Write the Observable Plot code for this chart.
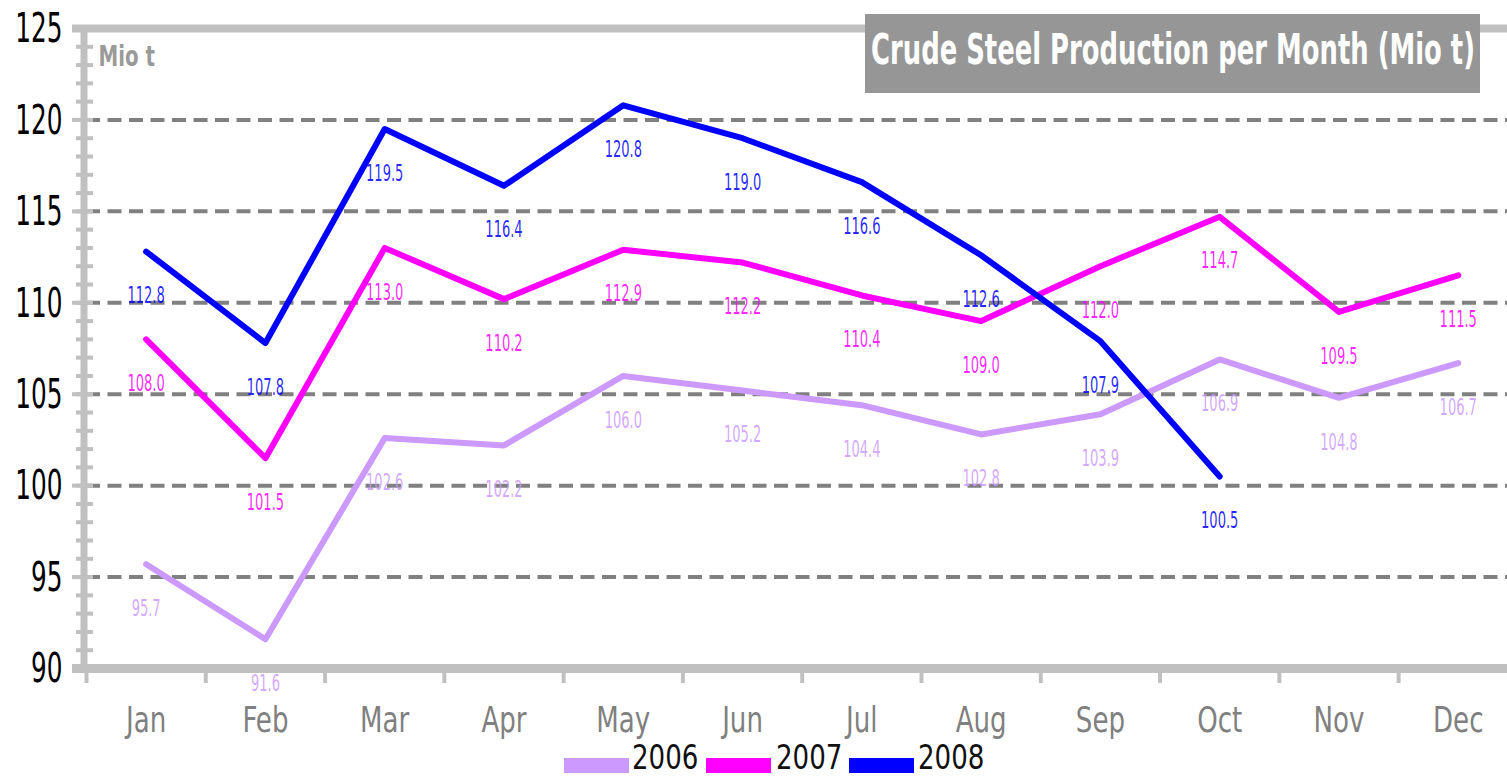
<!DOCTYPE html>
<html>
<head>
<meta charset="utf-8">
<script src="https://cdn.jsdelivr.net/npm/d3@7"></script>
<script src="https://cdn.jsdelivr.net/npm/@observablehq/plot@0.6"></script>
<style>
  html, body { margin: 0; padding: 0; background: #fff; }
  body { width: 1507px; height: 778px; position: relative; overflow: hidden;
         font-family: 'Liberation Sans Narrow', 'Arial Narrow', 'DejaVu Sans Condensed', sans-serif; }
  #chart svg { display: block; }
  #title { position: absolute; left: 865px; top: 14px; width: 615px; height: 79px; background: #969696;
           overflow: hidden; }
  #title span { position: absolute; left: 6px; top: 18px; white-space: nowrap; color: #fff; font-weight: bold;
                font-size: 36px; line-height: 36px; transform-origin: 0 50%; }
  #legend { position: absolute; left: 0; top: 742px; width: 1507px; height: 36px; }
  .sw { position: absolute; top: 16px; width: 65px; height: 15px; }
  .lt { position: absolute; top: -4px; font-size: 29px; line-height: 1.164em; color: #111;
        transform: scaleY(1.18); transform-origin: 0 0; }
</style>
</head>
<body>
<div id="chart"></div>
<div id="title"><span>Crude Steel Production per Month (Mio t)</span></div>
<div id="legend"></div>
<script>
const months = ["Jan","Feb","Mar","Apr","May","Jun","Jul","Aug","Sep","Oct","Nov","Dec"];
const years = ["2006","2007","2008"];
const colors = ["#cc99ff","#ff00ff","#0000ff"];
const v2006 = [95.7, 91.6, 102.6, 102.2, 106.0, 105.2, 104.4, 102.8, 103.9, 106.9, 104.8, 106.7];
const v2007 = [108.0, 101.5, 113.0, 110.2, 112.9, 112.2, 110.4, 109.0, 112.0, 114.7, 109.5, 111.5];
const v2008 = [112.8, 107.8, 119.5, 116.4, 120.8, 119.0, 116.6, 112.6, 107.9, 100.5];
const yTicks = [90, 95, 100, 105, 110, 115, 120, 125];
const gridTicks = [95, 100, 105, 110, 115, 120];
const unitLabel = "Mio t";

const series = [v2006, v2007, v2008];
const data = series.flatMap((vals, k) => vals.map((v, i) => ({year: years[k], m: i, v})));
const minorTicks = d3.range(yTicks[0], yTicks[yTicks.length - 1] + 1);
const bounds = d3.range(-0.5, months.length, 1);

const FONT = "'Liberation Sans Narrow', 'Arial Narrow', 'DejaVu Sans Condensed', sans-serif";
const AX = "#c0c0c0";

const plot = Plot.plot({
  width: 1507,
  height: 742,
  style: {background: "#fff", fontFamily: FONT, overflow: "hidden"},
  x: {domain: [-0.5, 11.5], range: [86, 1517.4], axis: null},
  y: {domain: [90, 125], range: [668, 28], axis: null},
  color: {domain: years, range: colors},
  marks: [
    Plot.ruleY(gridTicks, {y: d => d, x1: -0.5, x2: 11.5, stroke: "#808080", strokeWidth: 4, strokeDasharray: "14,7.5"}),
    Plot.ruleY([125], {y: d => d, x1: -0.5, x2: 11.5, insetLeft: -14, stroke: AX, strokeWidth: 8}),
    Plot.ruleX([-0.5], {x: d => d, y1: 90, y2: 125, dx: -2.5, stroke: AX, strokeWidth: 7}),
    Plot.ruleY(minorTicks, {y: d => d, x1: -0.5, x2: -0.5, insetLeft: -10, insetRight: -7, stroke: AX, strokeWidth: 4}),
    Plot.ruleY(yTicks, {y: d => d, x1: -0.5, x2: -0.5, insetLeft: -14, insetRight: -7, stroke: AX, strokeWidth: 4}),
    Plot.ruleX(bounds, {x: d => d, y1: 90, y2: 90, insetTop: 4, insetBottom: -15, stroke: AX, strokeWidth: 4}),
    Plot.ruleY([90], {y: d => d, x1: -0.5, x2: 11.5, insetLeft: -14, stroke: AX, strokeWidth: 9}),
    Plot.line(data, {x: "m", y: "v", z: "year", stroke: "year", strokeWidth: 6, strokeLinejoin: "round"}),
    Plot.text(data, {x: "m", y: "v", text: d => d.v.toFixed(1), fill: "year", dy: 44, fontSize: 14.5, fillOpacity: 0.85}),
    Plot.text(yTicks, {x: -0.5, y: d => d, text: d => String(d), textAnchor: "end", dx: -24, fontSize: 27.5, fill: "#000"}),
    Plot.text(months, {x: (d, i) => i, y: () => 90, text: d => d, dy: 52, fontSize: 29, fill: "#808080"}),
    Plot.text([unitLabel], {x: -0.5, y: 125, text: d => d, textAnchor: "start", dx: 12, dy: 29, fontSize: 22, fontWeight: "bold", fill: "#9a9a9a"})
  ]
});
document.getElementById("chart").appendChild(plot);

// stretch texts vertically (condensed, tall look of the original); one factor per text mark
const stretch = [1.6, 1.5, 1.2, 1.25];
plot.querySelectorAll('g[aria-label="text"]').forEach((g, k) => {
  const s = stretch[k] || 1.25;
  g.querySelectorAll("text").forEach(t => {
    const b = t.getBBox();
    const cy = b.y + b.height / 2;
    const tr = t.getAttribute("transform") || "";
    t.setAttribute("transform", `${tr} translate(0,${cy}) scale(1,${s}) translate(0,${-cy})`);
  });
});

// title width fit
const ts = document.querySelector("#title span");
const w = ts.getBoundingClientRect().width;
ts.style.transform = `scale(${604 / w}, 1.2)`;

// legend
const legend = document.getElementById("legend");
const swX = [564, 706, 849];
const txX = [632, 776, 918];
years.forEach((y, k) => {
  const s = document.createElement("div");
  s.className = "sw"; s.style.left = swX[k] + "px"; s.style.background = colors[k];
  legend.appendChild(s);
  const t = document.createElement("div");
  t.className = "lt"; t.style.left = txX[k] + "px"; t.textContent = y;
  legend.appendChild(t);
});
</script>
</body>
</html>
